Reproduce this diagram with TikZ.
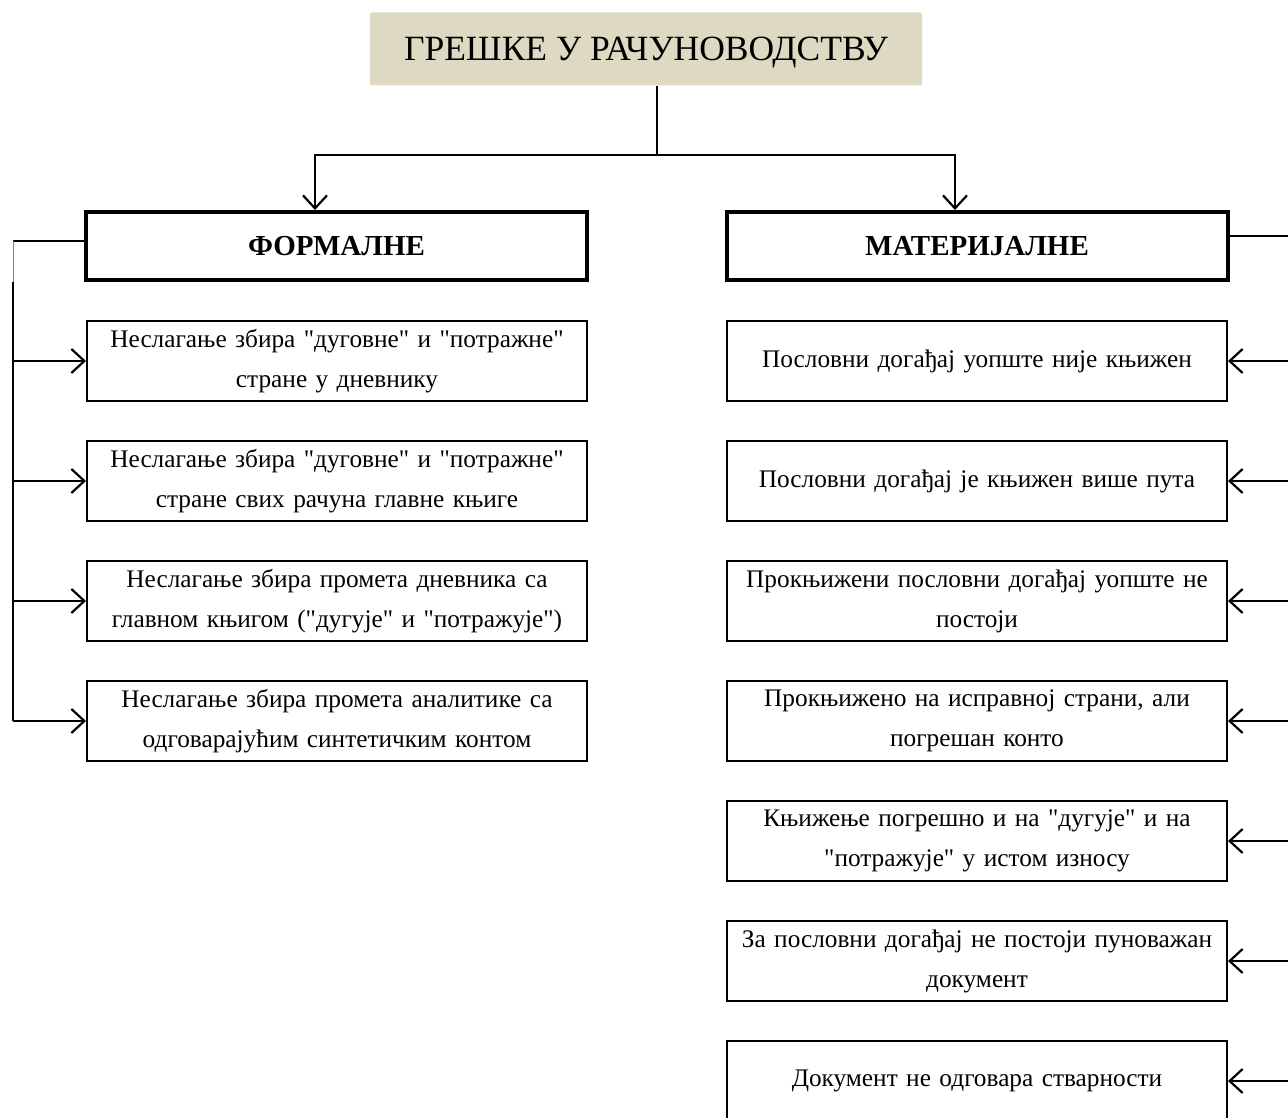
\documentclass[tikz,border=0pt]{standalone}
\usepackage{fontspec}
\setmainfont{Liberation Serif}[Ligatures=TeXOff]
\usetikzlibrary{arrows.meta}
\definecolor{titlebg}{HTML}{DDD9C3}
\begin{document}
\begin{tikzpicture}[x=1pt,y=-1pt,
  titlebox/.style={fill=titlebg,rounded corners=2pt,minimum width=552pt,minimum height=73pt,inner sep=0pt,text depth=0pt,font=\fontsize{35.5}{40}\selectfont},
  headbox/.style={draw,line width=4pt,minimum width=501pt,minimum height=68pt,inner sep=0pt,text depth=0pt,font=\fontsize{29}{34}\selectfont\bfseries},
  itembox/.style={draw,line width=2pt,minimum width=500pt,minimum height=80pt,inner sep=0pt,align=center,text width=498pt,font=\fontsize{25.3}{40}\selectfont},
  conn/.style={line width=2pt},
  arr/.style={line width=2pt,-{Straight Barb[length=13pt,width=24pt,line width=2.2pt]}}
]
\useasboundingbox (0,0) rectangle (1288,1118);
\node[titlebox] (title) at (646,49) {ГРЕШКЕ У РАЧУНОВОДСТВУ};
\node[headbox] (F) at (336.5,246) {ФОРМАЛНЕ};
\node[headbox] (M) at (977,246) {МАТЕРИЈАЛНЕ};

\node[itembox] (L1) at (337,361) {Неслагање збира "дуговне" и "потражне"\\ стране у дневнику};
\node[itembox] (L2) at (337,481) {Неслагање збира "дуговне" и "потражне"\\ стране свих рачуна главне књиге};
\node[itembox] (L3) at (337,601) {Неслагање збира промета дневника са\\ главном књигом ("дугује" и "потражује")};
\node[itembox] (L4) at (337,721) {Неслагање збира промета аналитике са\\ одговарајућим синтетичким контом};

\node[itembox] (R1) at (977,361) {Пословни догађај уопште није књижен};
\node[itembox] (R2) at (977,481) {Пословни догађај је књижен више пута};
\node[itembox] (R3) at (977,601) {Прокњижени пословни догађај уопште не\\ постоји};
\node[itembox] (R4) at (977,721) {Прокњижено на исправној страни, али\\ погрешан конто};
\node[itembox] (R5) at (977,841) {Књижење погрешно и на "дугује" и на\\ "потражује" у истом износу};
\node[itembox] (R6) at (977,961) {За пословни догађај не постоји пуноважан\\ документ};
\node[itembox] (R7) at (977,1081) {Документ не одговара стварности};

\coordinate (j) at (657,155);
\coordinate (jl) at (315,155);
\coordinate (jr) at (955,155);
\coordinate (lv) at (13,241);
\coordinate (lg) at (13,282);
\coordinate (lb) at (13,721);
\coordinate (rv) at (1292,236);

\draw[conn] (title.south -| j) -- (j);
\draw[arr] (j) -- (jl) -- (F.north -| jl);
\draw[arr] (j) -- (jr) -- (M.north -| jr);

\draw[conn] (F.west |- lv) -- (lv);
\draw[line width=1pt,gray] (lv) -- (lg);
\draw[conn] (lg) -- (lb);
\foreach \n in {L1,L2,L3,L4}{\draw[arr] (\n.west -| lv) -- (\n.west);}

\draw[conn] (M.east |- rv) -- (rv);
\foreach \n in {R1,R2,R3,R4,R5,R6,R7}{\draw[arr] (\n.east -| rv) -- (\n.east);}
\end{tikzpicture}
\end{document}
